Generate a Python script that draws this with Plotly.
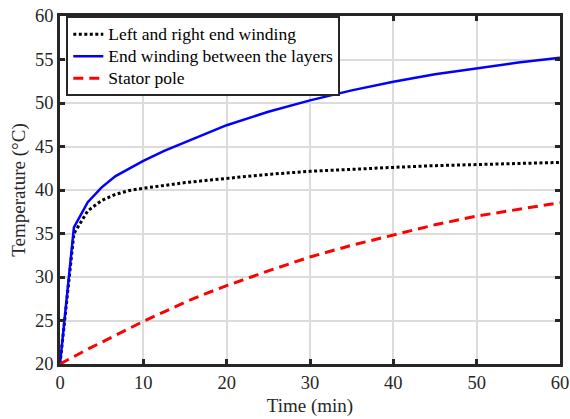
import plotly.graph_objects as go

time_min = [0, 1.67, 3.33, 5, 6.67, 8.33, 10, 12.5, 15, 17.5, 20, 25, 30, 35, 40, 45, 50, 55, 60]
left_right_end = [20, 35.0, 37.6, 38.8, 39.5, 39.95, 40.2, 40.55, 40.85, 41.1, 41.35, 41.8, 42.15, 42.4, 42.6, 42.8, 42.95, 43.08, 43.17]
between_layers = [20, 35.7, 38.6, 40.3, 41.6, 42.5, 43.35, 44.5, 45.5, 46.5, 47.45, 49.0, 50.3, 51.45, 52.45, 53.3, 54.0, 54.65, 55.2]
stator_pole = [20, 20.9, 21.7, 22.5, 23.3, 24.1, 24.9, 26.0, 27.1, 28.1, 29.0, 30.7, 32.3, 33.65, 34.85, 36.0, 37.0, 37.8, 38.55]

names = ["Left and right end winding", "End winding between the layers", "Stator pole"]
x_ticks = [0, 10, 20, 30, 40, 50, 60]
y_ticks = [20, 25, 30, 35, 40, 45, 50, 55, 60]

FONT = "Liberation Serif"
AX = "#262626"


def leg(name):
    return '<span style="font-size:17.5px">' + name + '</span>'


fig = go.Figure()
fig.add_trace(go.Scatter(x=time_min, y=left_right_end, mode="lines", name=leg(names[0]),
                         line=dict(color="black", width=3, dash="3px,2.5px")))
fig.add_trace(go.Scatter(x=time_min, y=between_layers, mode="lines", name=leg(names[1]),
                         line=dict(color="#0000ff", width=2.5)))
fig.add_trace(go.Scatter(x=time_min, y=stator_pole, mode="lines", name=leg(names[2]),
                         line=dict(color="#ff0000", width=3, dash="10px,6px")))

axis_common = dict(showline=True, linecolor=AX, linewidth=2.5, mirror="ticks",
                   ticks="inside", ticklen=5, tickwidth=2.5, tickcolor=AX,
                   showgrid=True, gridcolor="#dcdcdc", gridwidth=1.5,
                   zeroline=False, tickfont=dict(family=FONT, size=18.5, color=AX))

fig.update_xaxes(range=[0, 60], tickvals=x_ticks,
                 title=dict(text="Time (min)", font=dict(family=FONT, size=19, color=AX), standoff=7),
                 **axis_common)
fig.update_yaxes(range=[20, 60], tickvals=y_ticks,
                 title=dict(text="Temperature (°C)", font=dict(family=FONT, size=19, color=AX), standoff=5),
                 **axis_common)

fig.update_layout(
    width=570, height=419,
    margin=dict(l=60, r=10, t=16, b=55, autoexpand=False),
    plot_bgcolor="white", paper_bgcolor="white",
    font=dict(family=FONT, color=AX),
    legend=dict(x=0.0126, y=0.999, xanchor="left", yanchor="top",
                bgcolor="white", bordercolor=AX, borderwidth=2,
                font=dict(family=FONT, size=14.6, color="black"),
                tracegroupgap=0),
    showlegend=True,
)

fig.write_html("out.html")
